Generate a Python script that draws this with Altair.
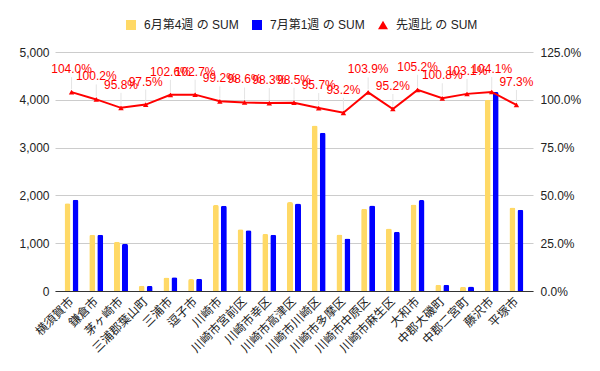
import altair as alt
import pandas as pd

categories = ["横須賀市", "鎌倉市", "茅ヶ崎市", "三浦郡葉山町", "三浦市", "逗子市", "川崎市",
              "川崎市宮前区", "川崎市幸区", "川崎市高津区", "川崎市川崎区", "川崎市多摩区",
              "川崎市中原区", "川崎市麻生区", "大和市", "中郡大磯町", "中郡二宮町", "藤沢市", "平塚市"]
june = [1835, 1175, 1030, 110, 280, 250, 1800, 1290, 1195, 1860, 3460, 1180, 1720, 1305, 1810, 130, 90, 4000, 1745]
july = [1908, 1177, 987, 107, 288, 257, 1786, 1272, 1175, 1832, 3311, 1100, 1787, 1242, 1904, 131, 93, 4164, 1698]
ratio = [1.040, 1.002, 0.958, 0.975, 1.026, 1.027, 0.992, 0.986, 0.983, 0.985, 0.957, 0.932,
         1.039, 0.952, 1.052, 1.008, 1.031, 1.041, 0.973]
series_names = ["6月第4週 の SUM", "7月第1週 の SUM", "先週比 の SUM"]
colors = ["#FFD966", "#0000FF", "#FF0000"]
shapes = ["square", "square", "triangle-up"]
left_ticks = [0, 1000, 2000, 3000, 4000, 5000]
right_ticks = [0, 0.25, 0.5, 0.75, 1.0, 1.25]

FONT = "Liberation Sans, Noto Sans CJK JP, sans-serif"

bars_df = pd.DataFrame(
    [{"category": c, "series": series_names[0], "value": v} for c, v in zip(categories, june)]
    + [{"category": c, "series": series_names[1], "value": v} for c, v in zip(categories, july)]
)
ratio_df = pd.DataFrame({"category": categories, "ratio": ratio, "series": series_names[2]})

color_scale = alt.Scale(domain=series_names, range=colors)
shape_scale = alt.Scale(domain=series_names, range=shapes)
legend = alt.Legend(title=None, orient="none", legendX=70, legendY=-33, direction="horizontal",
                    symbolSize=100, labelFontSize=12, labelOffset=7, columnPadding=12,
                    labelColor="#222222", labelFont=FONT, symbolStrokeWidth=0)

x_enc = alt.X("category:N", sort=categories, title=None,
              scale=alt.Scale(paddingInner=0, paddingOuter=0.17),
              axis=alt.Axis(labelAngle=-45, labelAlign="right", labelBaseline="middle",
                            labelPadding=8, labelFontSize=12, labelColor="#222222",
                            labelFont=FONT, ticks=False, domainColor="#333333",
                            domainWidth=1, grid=False, labelOverlap=False))

bars = alt.Chart(bars_df).mark_bar(cornerRadiusTopLeft=2, cornerRadiusTopRight=2).encode(
    x=x_enc,
    xOffset=alt.XOffset("series:N", sort=series_names[:2],
                        scale=alt.Scale(paddingInner=0.25, paddingOuter=0.67)),
    y=alt.Y("value:Q", title=None, scale=alt.Scale(domain=[0, 5000], nice=False),
            axis=alt.Axis(values=left_ticks, format=",d", ticks=False, domain=False,
                          labelPadding=6, labelFontSize=12, labelColor="#222222",
                          labelFont=FONT, gridColor="#cccccc")),
    color=alt.Color("series:N", scale=color_scale, legend=legend),
)

y_right = alt.Y("ratio:Q", title=None, scale=alt.Scale(domain=[0, 1.25], nice=False),
                axis=alt.Axis(orient="right", values=right_ticks, format=".1%", ticks=False,
                              domain=False, grid=False, labelPadding=7, labelFontSize=12,
                              labelColor="#222222", labelFont=FONT))

base = alt.Chart(ratio_df)
line = base.mark_line(color="#FF0000", strokeWidth=2).encode(x=x_enc, y=y_right)
leaders = base.mark_rule(color="#e4e4e4", strokeWidth=1, yOffset=-3, y2Offset=-15).encode(
    x=x_enc, y=y_right, y2="ratio:Q")
points = base.mark_point(filled=True, size=30, opacity=1).encode(
    x=x_enc, y=y_right,
    color=alt.Color("series:N", scale=color_scale, legend=legend),
    shape=alt.Shape("series:N", scale=shape_scale, legend=legend),
)
labels = base.mark_text(color="#FF0000", fontSize=12, dy=-19, baseline="alphabetic",
                        font=FONT).encode(
    x=x_enc, y=y_right, text=alt.Text("ratio:Q", format=".1%"))

right = alt.layer(leaders, line, points, labels)

chart = alt.layer(bars, right).resolve_scale(y="independent").properties(
    width=478, height=239,
    autosize=alt.AutoSizeParams(type="none"),
    padding={"left": 47, "top": 44, "right": 59, "bottom": 72},
    background="white",
).configure_view(stroke=None)

chart.save("out.html", embed_options={"renderer": "svg", "actions": False})
